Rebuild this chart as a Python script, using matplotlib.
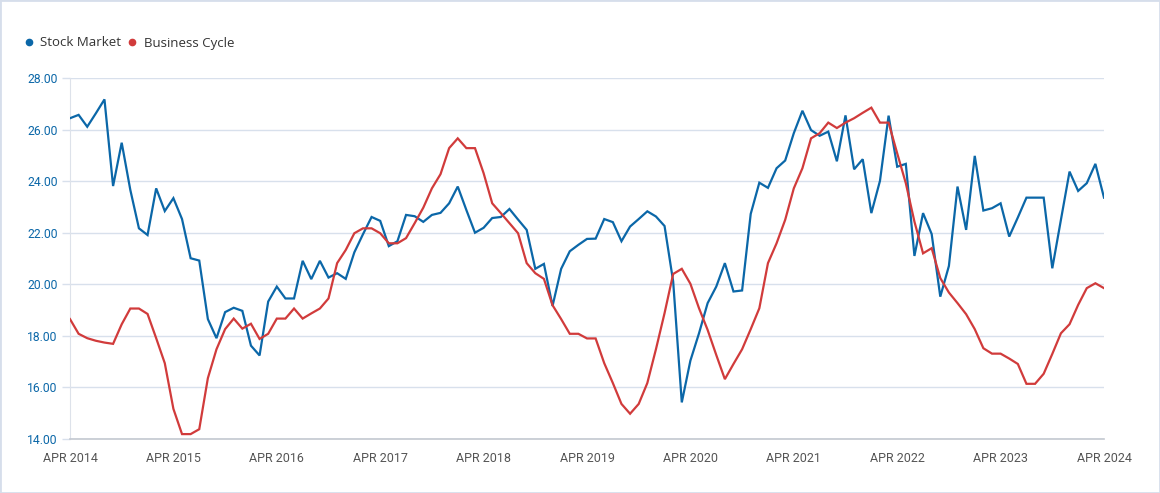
#!/usr/bin/env python3
"""
Stock market vs business cycle, monthly Apr 2014 - Apr 2024
"""

import matplotlib
matplotlib.use('Agg')
import matplotlib.pyplot as plt
from matplotlib.lines import Line2D
from matplotlib.patches import Rectangle

# monthly values, Apr 2014 .. Apr 2024 (121 points)
stock_market = [
    26.44, 26.57, 26.11, 26.63, 27.17, 23.81, 25.49, 23.66, 22.17, 21.91,
    23.72, 22.84, 23.34, 22.53, 21.01, 20.92, 18.65, 17.91, 18.92, 19.09,
    18.97, 17.62, 17.24, 19.33, 19.91, 19.45, 19.45, 20.91, 20.20, 20.91,
    20.26, 20.43, 20.21, 21.24, 21.94, 22.61, 22.46, 21.48, 21.67, 22.69,
    22.64, 22.42, 22.69, 22.77, 23.14, 23.79, 22.88, 22.00, 22.19, 22.57,
    22.61, 22.92, 22.51, 22.11, 20.60, 20.79, 19.16, 20.60, 21.28, 21.53,
    21.76, 21.77, 22.53, 22.41, 21.67, 22.24, 22.53, 22.83, 22.63, 22.26,
    20.11, 15.42, 17.04, 18.10, 19.27, 19.91, 20.82, 19.72, 19.76, 22.73,
    23.94, 23.74, 24.50, 24.80, 25.86, 26.73, 25.98, 25.76, 25.92, 24.77,
    26.55, 24.46, 24.85, 22.76, 24.01, 26.54, 24.56, 24.67, 21.10, 22.76,
    21.95, 19.52, 20.71, 23.79, 22.11, 24.98, 22.86, 22.95, 23.14, 21.85,
    22.59, 23.36, 23.36, 23.36, 20.62, 22.50, 24.37, 23.62, 23.92, 24.67,
    23.36,
]

business_cycle = [
    18.65, 18.08, 17.91, 17.81, 17.74, 17.69, 18.45, 19.06, 19.06, 18.85,
    17.91, 16.94, 15.17, 14.19, 14.19, 14.38, 16.36, 17.48, 18.26, 18.67,
    18.28, 18.47, 17.88, 18.08, 18.67, 18.67, 19.06, 18.67, 18.87, 19.06,
    19.45, 20.82, 21.33, 21.98, 22.17, 22.17, 21.98, 21.59, 21.59, 21.79,
    22.37, 22.97, 23.72, 24.27, 25.28, 25.66, 25.28, 25.28, 24.31, 23.14,
    22.76, 22.37, 21.98, 20.82, 20.43, 20.21, 19.19, 18.65, 18.08, 18.08,
    17.90, 17.90, 16.94, 16.17, 15.36, 14.98, 15.36, 16.17, 17.48, 18.88,
    20.40, 20.60, 20.02, 19.07, 18.23, 17.26, 16.32, 16.91, 17.48, 18.26,
    19.07, 20.82, 21.59, 22.50, 23.72, 24.50, 25.66, 25.86, 26.27, 26.06,
    26.27, 26.44, 26.65, 26.85, 26.27, 26.27, 25.08, 23.92, 22.43, 21.20,
    21.40, 20.24, 19.68, 19.27, 18.84, 18.26, 17.52, 17.31, 17.31, 17.12,
    16.91, 16.14, 16.14, 16.53, 17.30, 18.10, 18.45, 19.20, 19.85, 20.04,
    19.85,
]

years = list(range(2014, 2025))
tick_labels = [f'APR {y}' for y in years]
y_ticks = [14, 16, 18, 20, 22, 24, 26, 28]

BLUE = '#0b67a8'
RED = '#d13b3b'
GRID = '#d8e0ec'


def main():
    W, H = 1160, 493
    fig = plt.figure(figsize=(W / 100, H / 100), dpi=100)
    fig.patch.set_facecolor('white')
    ax = fig.add_axes([70 / W, 1 - 439 / H, (1104 - 70) / W, (439 - 78) / H])

    x = list(range(len(stock_market)))
    ax.plot(x, stock_market, color=BLUE, linewidth=1.6, solid_joinstyle='miter', zorder=3)
    ax.plot(x, business_cycle, color=RED, linewidth=1.6, solid_joinstyle='miter', zorder=3)

    ax.set_xlim(0, len(x) - 1)
    ax.set_ylim(14, 28)

    # y axis
    ax.set_yticks(y_ticks)
    ax.set_yticklabels([f'{v:.2f}' for v in y_ticks], fontsize=8.7,
                       color=BLUE, family=['Roboto', 'DejaVu Sans'])
    ax.tick_params(axis='y', length=6, width=1, color=GRID, pad=3)
    ax.grid(axis='y', color=GRID, linewidth=1, zorder=0)

    # x axis
    ax.set_xticks([12 * i for i in range(len(years))])
    ax.set_xticklabels(tick_labels, fontsize=9, color='#555555',
                       family=['Liberation Sans Narrow', 'Roboto', 'DejaVu Sans'])
    ax.tick_params(axis='x', length=0, pad=9)

    for side in ('top', 'right'):
        ax.spines[side].set_visible(False)
    ax.spines['left'].set_color('#dde2ea')
    ax.spines['bottom'].set_color('#c3c8d0')
    ax.spines['bottom'].set_linewidth(1.2)

    # legend
    handles = [
        Line2D([], [], marker='o', linestyle='', color=BLUE, markersize=4.5),
        Line2D([], [], marker='o', linestyle='', color=RED, markersize=4.5),
    ]
    leg = fig.legend(handles, ['Stock Market', 'Business Cycle'], loc='center left',
                     bbox_to_anchor=(25 / W, 1 - 43 / H), ncol=2, frameon=False,
                     handlelength=0.6, handletextpad=0.55, columnspacing=0.55,
                     borderpad=0, borderaxespad=0,
                     prop={'family': ['Open Sans', 'DejaVu Sans'], 'size': 9.5})
    for t in leg.get_texts():
        t.set_color('#333333')

    # outer border
    fig.add_artist(Rectangle((0, 0), 1, 1, transform=fig.transFigure, fill=False,
                             edgecolor='#d6deeb', linewidth=2))

    fig.savefig('out.png', dpi=100)
    plt.close(fig)


if __name__ == "__main__":
    main()
